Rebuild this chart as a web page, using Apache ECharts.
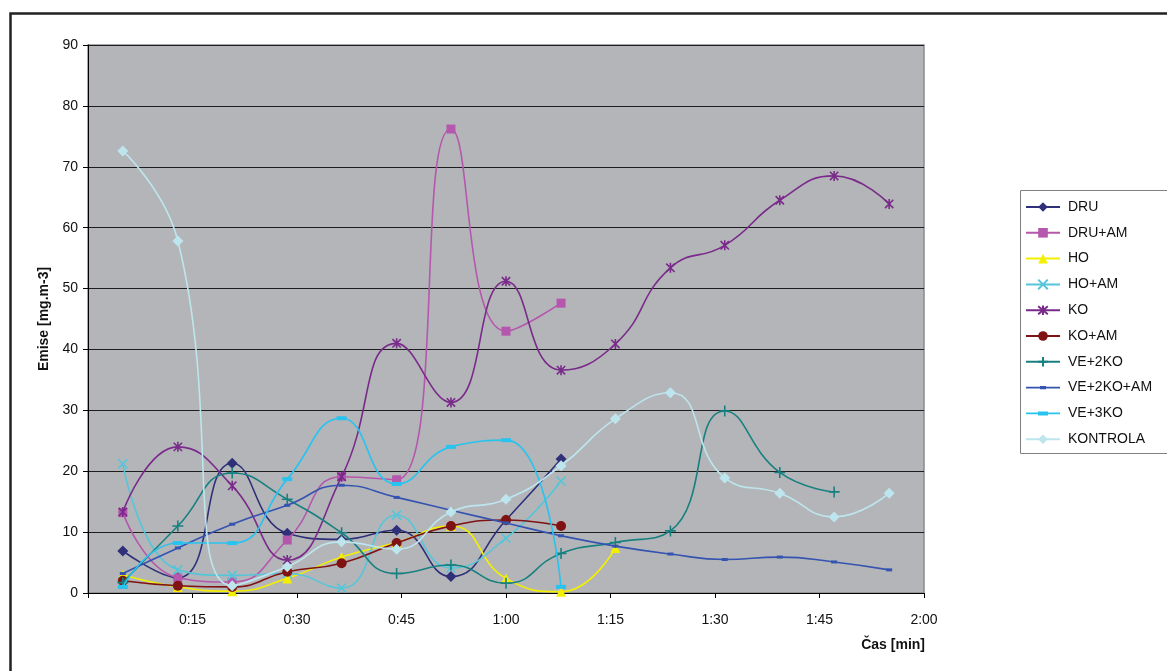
<!DOCTYPE html>
<html>
<head>
<meta charset="utf-8">
<script src="https://cdn.jsdelivr.net/npm/echarts@6/dist/echarts.min.js"></script>
<style>
  html, body { margin: 0; padding: 0; background: #fff; }
  #chart { width: 1167px; height: 671px; }
</style>
</head>
<body>
<div id="chart"></div>
<script>
// Sampling times in minutes
const times = [5, 12.9, 20.7, 28.6, 36.4, 44.3, 52.1, 60, 67.9, 75.7, 83.6, 91.4, 99.3, 107.1, 115];

// Emission values [mg.m-3] per variant
const dru        = [6.9, 2.5, 21.3, 9.8, 8.8, 10.3, 2.7, 12.0, 22.0];
const druAm      = [13.2, 2.5, 1.8, 8.7, 19.1, 18.6, 76.2, 43.0, 47.6];
const ho         = [3.0, 1.0, 0.3, 2.4, 5.9, 8.3, 11.0, 2.4, 0.2, 7.4];
const hoAm       = [21.2, 3.8, 2.9, 3.2, 0.8, 12.8, 4.1, 9.0, 18.4];
const ko         = [13.3, 24.0, 17.6, 5.4, 19.1, 41.0, 31.3, 51.2, 36.6, 40.9, 53.4, 57.1, 64.5, 68.5, 63.9];
const koAm       = [2.0, 1.2, 1.0, 3.5, 4.9, 8.2, 11.0, 12.0, 11.0];
const ve2ko      = [1.7, 11.0, 19.7, 15.4, 9.9, 3.2, 4.6, 1.6, 6.5, 8.3, 10.2, 29.9, 19.8, 16.6];
const ve2koAm    = [3.2, 7.4, 11.3, 14.4, 17.7, 15.7, 13.6, 11.5, 9.4, 7.7, 6.4, 5.5, 5.9, 5.1, 3.8];
const ve3ko      = [1.0, 8.2, 8.2, 18.7, 28.7, 17.9, 24.0, 25.1, 1.0];
const kontrola   = [72.6, 57.8, 1.2, 4.3, 8.4, 7.2, 13.3, 15.4, 20.9, 28.6, 32.9, 18.9, 16.4, 12.5, 16.4];

const seriesNames = ['DRU', 'DRU+AM', 'HO', 'HO+AM', 'KO', 'KO+AM', 'VE+2KO', 'VE+2KO+AM', 'VE+3KO', 'KONTROLA'];

const SYM_X = 'path://M0,0L10,10M10,0L0,10';
const SYM_STAR = 'path://M0,0L10,10M10,0L0,10M5,-1L5,11';
const SYM_PLUS = 'path://M5,0L5,10M0,5L10,5';

// Legend icons (line with a dash marker) for the two dash-marked series
const ICON_DASH_S = 'path://M0,5.2H34V6.8H0Z M14,4.4H20V7.6H14Z';
const ICON_DASH_L = 'path://M0,5.2H34V6.8H0Z M12,4H22V8H12Z';

const styles = [
  { values: dru,     color: '#30307a', symbol: 'diamond',  size: 11 },
  { values: druAm,   color: '#b457ad', symbol: 'rect',     size: 9 },
  { values: ho,      color: '#f2f000', symbol: 'triangle', size: 10 },
  { values: hoAm,    color: '#55c6d9', symbol: SYM_X,      size: 9,  stroke: true },
  { values: ko,      color: '#7a2a8a', symbol: SYM_STAR,   size: 10, stroke: true },
  { values: koAm,    color: '#7f1212', symbol: 'circle',   size: 10 },
  { values: ve2ko,   color: '#198080', symbol: SYM_PLUS,   size: 11, stroke: true },
  { values: ve2koAm, color: '#3553b0', symbol: 'rect',     size: [6, 3], icon: ICON_DASH_S },
  { values: ve3ko,   color: '#28c3ee', symbol: 'rect',     size: [10, 4], icon: ICON_DASH_L },
  { values: kontrola,color: '#bde5ee', symbol: 'diamond',  size: 11 }
];

function fmtTime(v) {
  if (v === 0) return '';
  const h = Math.floor(v / 60);
  const m = Math.round(v - h * 60);
  return h + ':' + (m < 10 ? '0' + m : m);
}

const series = styles.map((s, i) => ({
  name: seriesNames[i],
  type: 'line',
  smooth: 0.5,
  data: s.values.map((v, j) => [times[j], v]),
  symbol: s.symbol,
  symbolSize: s.size,
  symbolKeepAspect: !!s.stroke,
  showAllSymbol: true,
  lineStyle: { color: s.color, width: 1.6 },
  itemStyle: s.stroke
    ? { color: s.color, borderColor: s.color, borderWidth: 1.6 }
    : { color: s.color, borderWidth: 0 },
  emphasis: { disabled: true },
  z: 2 + i
}));

const legendData = styles.map((s, i) =>
  s.icon ? { name: seriesNames[i], icon: s.icon } : { name: seriesNames[i] });

const chart = echarts.init(document.getElementById('chart'), null, { renderer: 'canvas' });
chart.setOption({
  animation: false,
  backgroundColor: '#ffffff',
  textStyle: { fontFamily: 'Liberation Sans, Arial, sans-serif' },
  grid: {
    left: 88, top: 45, width: 836, height: 548,
    show: true, backgroundColor: '#b4b5b9', borderColor: '#8a8a8e', borderWidth: 1.5
  },
  xAxis: {
    type: 'value', min: 0, max: 120, interval: 15,
    axisLine: { lineStyle: { color: '#000', width: 1 } },
    axisTick: { show: true, length: 5, lineStyle: { color: '#000' } },
    axisLabel: { color: '#111', fontSize: 14, margin: 20, formatter: fmtTime, showMinLabel: true },
    splitLine: { show: false }
  },
  yAxis: {
    type: 'value', min: 0, max: 90, interval: 10,
    name: 'Emise [mg.m-3]', nameLocation: 'middle', nameGap: 36, nameRotate: 90,
    nameTextStyle: { fontWeight: 'bold', fontSize: 14, color: '#111' },
    axisLine: { show: true, lineStyle: { color: '#000', width: 1 } },
    axisTick: { show: true, length: 5, lineStyle: { color: '#000' } },
    axisLabel: { color: '#111', fontSize: 14, margin: 10 },
    splitLine: { show: true, lineStyle: { color: '#1e1e1e', width: 1.2 } }
  },
  legend: {
    orient: 'vertical', left: 1020, top: 195,
    itemWidth: 34, itemHeight: 12, itemGap: 11.8,
    textStyle: { fontSize: 14, color: '#111', padding: [0, 0, 0, 3] },
    data: legendData
  },
  graphic: [
    { type: 'rect', left: 8, top: 11, z: -10, shape: { width: 1175, height: 680 },
      style: { fill: 'none', stroke: '#222', lineWidth: 2.5 } },
    { type: 'rect', left: 1020, top: 190, z: -5, shape: { width: 160, height: 263 },
      style: { fill: '#ffffff', stroke: '#808080', lineWidth: 1 } },
    { type: 'text', right: 242, top: 638,
      style: { text: 'Čas [min]', font: 'bold 14px Liberation Sans, Arial, sans-serif', fill: '#111' } }
  ],
  series: series
});
</script>
</body>
</html>
